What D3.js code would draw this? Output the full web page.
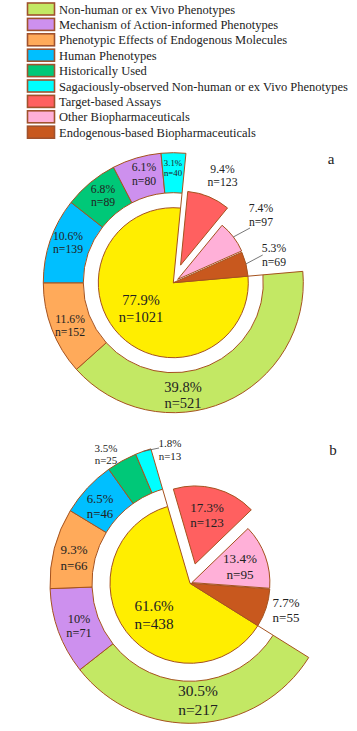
<!DOCTYPE html>
<html><head><meta charset="utf-8">
<script src="https://cdn.jsdelivr.net/npm/d3@7"></script>
<style>
body{margin:0;background:#fff}
svg{display:block}
</style>
</head><body>
<svg id="c" width="357" height="731" font-family="'Liberation Serif', 'Times New Roman', Times, serif" fill="#222"></svg>
<script>
// ---------- data ----------
const categories = [
  "Non-human or ex Vivo Phenotypes",
  "Mechanism of Action-informed Phenotypes",
  "Phenotypic Effects of Endogenous Molecules",
  "Human Phenotypes",
  "Historically Used",
  "Sagaciously-observed Non-human or ex Vivo Phenotypes",
  "Target-based Assays",
  "Other Biopharmaceuticals",
  "Endogenous-based Biopharmaceuticals"
];
const categoryColors = ["#C3E864","#CD90EE","#FFAA5A","#00BFFF","#00C878","#00FFFF","#FF6060","#FFB0D8","#C8581E"];
const phenotypicColor = "#FFEE00";
const innerKeys = ["Phenotypic", categories[6], categories[7], categories[8]];

const aInnerValues = [1021, 123, 97, 69];
const aRingKeys = [0, 2, 3, 4, 1, 5];
const aRingValues = [521, 152, 139, 89, 80, 40];

const bInnerValues = [438, 123, 95, 55];
const bRingKeys = [0, 1, 2, 3, 4, 5];
const bRingValues = [217, 71, 66, 46, 25, 13];

const panelTags = ["a", "b"];

// ---------- layout ----------
const strokeCol = "#A5521E";
const layouts = [
  {cx:173.3, cy:282.7, innerR:[75,74,70,75], ringIn:90, ringOut:130, start:85, explode:[0,19,5.5,0],
   innerLbl:[[-32.3,25.8,14.5],[49.2,-106.7,11.7],[87.7,-67.2,11.7],[100.7,-27.2,11.7]],
   ringLbl:[[9.7,112.3,14.5],[-103.3,43.3,11.7],[-105.3,-39.7,11.7],[-70.3,-86.7,11.7],[-29.3,-108.2,11.7],[-0.3,-114.7,8.8]],
   leaders:[{ring:false,i:2,end:[76.7,-54.7]},{ring:false,i:3,end:[89.4,-27.7]}],
   tag:[331,159]},
  {cx:190, cy:583.3, innerR:[80,78,78,80], ringIn:98, ringOut:140, start:122, explode:[0,20,2,0],
   innerLbl:[[-36,31.2,15.2],[17,-68.6,13],[50,-16.8,13.2],[96,26.4,13]],
   ringLbl:[[8,116.7,15.5],[-111,42.7,12.3],[-116,-25.8,13],[-90,-76.8,12.8],[-84,-129.3,11],[-20,-134,11]],
   leaders:[{ring:true,i:5,end:[-31,-135.3]}],
   tag:[333,450]}
];
const panels = [
  {inner:aInnerValues, ring:aRingValues, ringKeys:aRingKeys},
  {inner:bInnerValues, ring:bRingValues, ringKeys:bRingKeys}
];

const svg = d3.select("#c");
const deg = Math.PI/180;
const fmtPct = v => { const s = d3.format(".1f")(v*100); return (s.endsWith(".0") ? s.slice(0,-2) : s) + "%"; };

// ---------- legend ----------
const ly = d3.scalePoint().domain(categories).range([9, 132.2]);
const lg = svg.append("g");
lg.selectAll("rect").data(categories).join("rect")
  .attr("x",27.5).attr("y",d=>ly(d)-6).attr("width",27).attr("height",12)
  .attr("fill",(d,i)=>categoryColors[i]).attr("stroke","#A0522D").attr("stroke-width",1.6);
lg.selectAll("text").data(categories).join("text")
  .attr("x",59).attr("y",d=>ly(d)+0.5).attr("dominant-baseline","central")
  .attr("font-size",12.5).text(d=>d);

function label(g, x, y, size, l1, l2){
  const lh = size*1.17;
  const t = g.append("text").attr("text-anchor","middle").attr("font-size",size);
  t.append("tspan").attr("x",x).attr("y",y-lh/2).attr("dominant-baseline","central").text(l1);
  t.append("tspan").attr("x",x).attr("y",y+lh/2).attr("dominant-baseline","central").text(l2);
}

panels.forEach((p,k)=>{
  const L = layouts[k];
  const g = svg.append("g").attr("transform",`translate(${L.cx},${L.cy})`);
  const total = d3.sum(p.inner);
  const inArcs = d3.pie().sort(null).startAngle(L.start*deg).endAngle(L.start*deg+2*Math.PI)(p.inner);
  const ringArcs = d3.pie().sort(null).startAngle(inArcs[0].startAngle).endAngle(inArcs[0].endAngle)(p.ring);
  const ringArc = d3.arc().innerRadius(L.ringIn).outerRadius(L.ringOut);

  g.selectAll("path.ring").data(ringArcs).join("path").attr("class","ring")
    .attr("d",ringArc).attr("fill",(d,i)=>categoryColors[p.ringKeys[i]])
    .attr("stroke",strokeCol).attr("stroke-width",1).attr("stroke-linejoin","round");

  [inArcs[0].startAngle, inArcs[0].endAngle].forEach(a=>{
    g.append("line")
      .attr("x1",L.innerR[0]*Math.sin(a)).attr("y1",-L.innerR[0]*Math.cos(a))
      .attr("x2",L.ringIn*Math.sin(a)).attr("y2",-L.ringIn*Math.cos(a))
      .attr("stroke",strokeCol).attr("stroke-width",1);
  });

  const innerColors = [phenotypicColor, categoryColors[6], categoryColors[7], categoryColors[8]];
  const offs = inArcs.map((d,i)=>{ const m=(d.startAngle+d.endAngle)/2; return [L.explode[i]*Math.sin(m), -L.explode[i]*Math.cos(m)]; });
  g.selectAll("path.inner").data(inArcs).join("path").attr("class","inner")
    .attr("transform",(d,i)=>`translate(${offs[i][0]},${offs[i][1]})`)
    .attr("d",(d,i)=>d3.arc().innerRadius(0).outerRadius(L.innerR[i])(d))
    .attr("fill",(d,i)=>innerColors[i])
    .attr("stroke",strokeCol).attr("stroke-width",1).attr("stroke-linejoin","round");

  // leaders
  L.leaders.forEach(ld=>{
    let sx, sy;
    if(ld.ring){
      const d = ringArcs[ld.i], m=(d.startAngle+d.endAngle)/2;
      sx = L.ringOut*Math.sin(m); sy = -L.ringOut*Math.cos(m);
    } else {
      const d = inArcs[ld.i], m=(d.startAngle+d.endAngle)/2;
      sx = offs[ld.i][0]+L.innerR[ld.i]*Math.sin(m); sy = offs[ld.i][1]-L.innerR[ld.i]*Math.cos(m);
    }
    g.append("line").attr("x1",sx).attr("y1",sy).attr("x2",ld.end[0]).attr("y2",ld.end[1])
      .attr("stroke","#555").attr("stroke-width",0.8);
  });

  p.inner.forEach((v,i)=>{
    const [x,y,s] = L.innerLbl[i];
    label(g,x,y,s,fmtPct(v/total),"n="+v);
  });
  p.ring.forEach((v,i)=>{
    const [x,y,s] = L.ringLbl[i];
    label(g,x,y,s,fmtPct(v/total),"n="+v);
  });

  svg.append("text").attr("x",L.tag[0]).attr("y",L.tag[1]).attr("text-anchor","middle")
    .attr("dominant-baseline","central").attr("font-size",15).text(panelTags[k]);
});
</script>
</body></html>
